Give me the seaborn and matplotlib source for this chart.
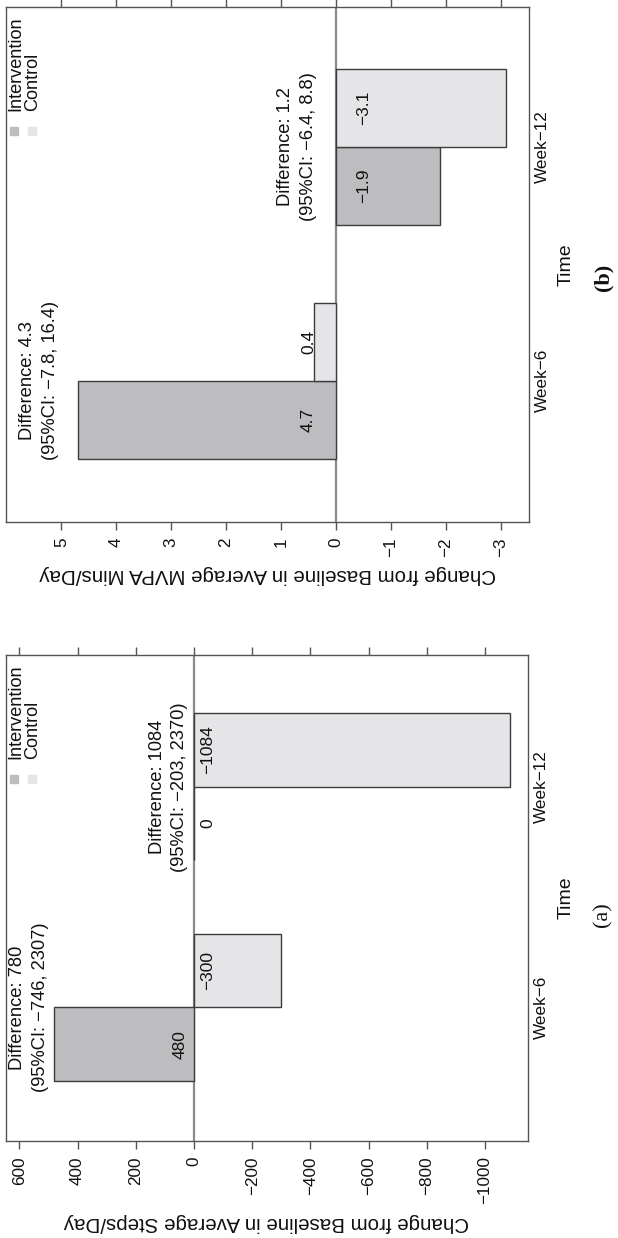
import matplotlib
matplotlib.use("Agg")
import matplotlib.pyplot as plt
from matplotlib.transforms import offset_copy
import pandas as pd
import seaborn as sns

# ---- data -------------------------------------------------------------
times = ["Week\u22126", "Week\u221212"]
groups = ["Intervention", "Control"]

steps_intervention = [480, 0]
steps_control = [-300, -1084]
steps_difference = [780, 1084]
steps_ci_low = [-746, -203]
steps_ci_high = [2307, 2370]
steps_ticks = [600, 400, 200, 0, -200, -400, -600, -800, -1000]

mvpa_intervention = [4.7, -1.9]
mvpa_control = [0.4, -3.1]
mvpa_difference = [4.3, 1.2]
mvpa_ci_low = [-7.8, -6.4]
mvpa_ci_high = [16.4, 8.8]
mvpa_ticks = [5, 4, 3, 2, 1, 0, -1, -2, -3]

fill_colors = {"Intervention": "#bdbdbf", "Control": "#e5e5e7"}

# ---- style ------------------------------------------------------------
sns.set_theme(style="white")
plt.rcParams["font.family"] = ["Liberation Sans", "DejaVu Sans"]
plt.rcParams["axes.unicode_minus"] = True

W, H = 618, 1238
fig = plt.figure(figsize=(W / 100, H / 100), dpi=100)


def num(v, decimals):
    return f"{v:.{decimals}f}".replace("-", "\u2212")


def px_axes(left, top, right, bottom):
    return [left / W, 1 - bottom / H, (right - left) / W, (bottom - top) / H]


def draw_panel(ax, intervention, control, diffs, ci_low, ci_high, ticks,
               xlim, offset, decimals, value_label):
    df = pd.DataFrame({
        "time": times + times,
        "group": [groups[0]] * len(times) + [groups[1]] * len(times),
        "value": list(intervention) + list(control),
    })
    ax.axvline(0, color="#8a8a8a", lw=1.6, zorder=0.5)
    sns.barplot(data=df, x="value", y="time", hue="group", order=times,
                hue_order=groups, palette=fill_colors, orient="h",
                width=0.668, saturation=1, edgecolor="#3c3c3c",
                linewidth=1.0, legend=False, errorbar=None, ax=ax)
    ax.set_xlim(*xlim)
    ax.set_ylim(-0.603, 1.598)

    # value axis (drawn along the bottom, mirrored ticks on top)
    ax.set_xticks(ticks)
    ax.tick_params(axis="x", bottom=True, top=True, labelbottom=True,
                   labeltop=False, direction="out", length=5.8, width=1,
                   color="#555555", labelsize=12.3, pad=5.6,
                   labelrotation=90, labelcolor="#111111")
    ax.set_xlabel(value_label, rotation=180, fontsize=14.8, labelpad=6,
                  color="#111111")

    # time axis (right side, no tick marks)
    ax.yaxis.tick_right()
    ax.yaxis.set_label_position("right")
    ax.set_yticks(range(len(times)), labels=times, rotation=90, va="center")
    ax.tick_params(axis="y", left=False, right=False, length=0, pad=4.5,
                   labelsize=12.3, labelcolor="#111111")
    ax.set_ylabel("Time", rotation=90, fontsize=14, labelpad=6,
                  color="#111111")

    for side in ["left", "right", "top", "bottom"]:
        ax.spines[side].set_visible(True)
        ax.spines[side].set_color("#555555")
        ax.spines[side].set_linewidth(1.0)

    # value labels inside the bars and difference annotations above groups
    half = 0.668 / 4
    for i, t in enumerate(times):
        for v, dy in ((intervention[i], -half), (control[i], half)):
            x = offset if v > 0 else -offset
            ax.text(x, i + dy, num(v, decimals), rotation=90, ha="center",
                    va="center", fontsize=12.5, color="#111111")
        top = max(0, intervention[i], control[i]) + offset
        ci_txt = f"(95%CI: {num(ci_low[i], decimals)}, {num(ci_high[i], decimals)})"
        ax.annotate(ci_txt, xy=(top, i), rotation=90, ha="center",
                    va="center", fontsize=13.2, color="#111111")
        ax.annotate(f"Difference: {num(diffs[i], decimals)}", xy=(top, i),
                    xytext=(-22.5, 0), textcoords="offset pixels",
                    rotation=90, ha="center", va="center", fontsize=13.2,
                    color="#111111")

    # legend
    for k, g in enumerate(groups):
        dx = 8.5 + 17.3 * k
        tr = offset_copy(ax.transAxes, fig=fig, x=dx, y=-124, units="dots")
        ax.plot([0], [1], marker="s", ms=5.8, mfc=fill_colors[g],
                mec=fill_colors[g], ls="none", transform=tr, clip_on=False)
        tr_t = offset_copy(ax.transAxes, fig=fig, x=dx + 1, y=-104,
                           units="dots")
        ax.text(0, 1, g, transform=tr_t, rotation=90, ha="center",
                va="bottom", fontsize=13.1, color="#111111")


ax_b = fig.add_axes(px_axes(5.9, 7.1, 528.5, 521.7))
draw_panel(ax_b, mvpa_intervention, mvpa_control, mvpa_difference,
           mvpa_ci_low, mvpa_ci_high, mvpa_ticks, (6.01, -3.506), 0.5, 1,
           "Change from Baseline in Average MVPA Mins/Day")

ax_a = fig.add_axes(px_axes(5.9, 654.8, 527.6, 1140.5))
draw_panel(ax_a, steps_intervention, steps_control, steps_difference,
           steps_ci_low, steps_ci_high, steps_ticks, (646, -1146), 48, 0,
           "Change from Baseline in Average Steps/Day")

fig.text(603 / W, 1 - 277 / H, "(b)", rotation=90, ha="center", va="center",
         family="Liberation Serif", weight="bold", fontsize=16, color="#111111")
fig.text(603 / W, 1 - 915 / H, "(a)", rotation=90, ha="center", va="center",
         family="Liberation Serif", fontsize=16, color="#111111")

fig.savefig("out.png", dpi=100)
